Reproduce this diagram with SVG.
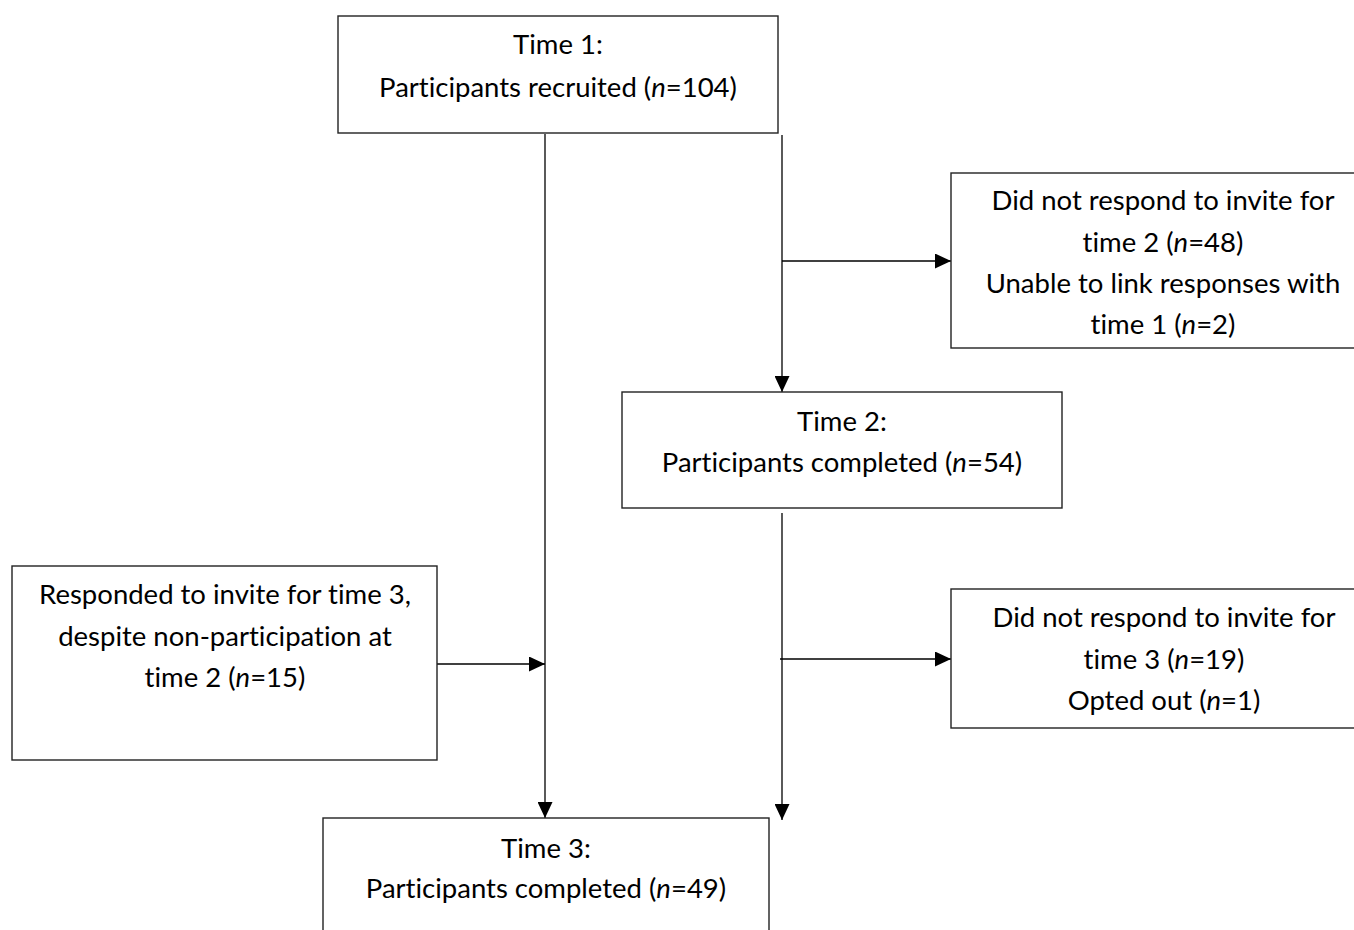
<svg xmlns="http://www.w3.org/2000/svg" width="1354" height="930" viewBox="0 0 1354 930">
<defs>
<style>
.box{fill:#fff;stroke:#222;stroke-width:1.4}
.ln{fill:none;stroke:#000;stroke-width:1.3}
text{font-family:Lato,"Open Sans","Liberation Sans",sans-serif;font-size:27.5px;fill:#000;text-anchor:middle;font-variant-ligatures:none;font-feature-settings:"liga" 0,"clig" 0}
.i{font-style:italic}
</style>
<marker id="ah" markerWidth="16" markerHeight="15" refX="16" refY="7.5" orient="auto" markerUnits="userSpaceOnUse">
<path d="M0,0 L16,7.5 L0,15 Z" fill="#000"/>
</marker>
</defs>
<rect width="1354" height="930" fill="#fff"/>
<g id="connectors">
<line class="ln" x1="545" y1="134" x2="545" y2="818" marker-end="url(#ah)"/>
<line class="ln" x1="782" y1="135" x2="782" y2="392" marker-end="url(#ah)"/>
<line class="ln" x1="782" y1="261" x2="951" y2="261" marker-end="url(#ah)"/>
<line class="ln" x1="782" y1="513" x2="782" y2="820" marker-end="url(#ah)"/>
<line class="ln" x1="780" y1="659" x2="951" y2="659" marker-end="url(#ah)"/>
<line class="ln" x1="437" y1="664" x2="545" y2="664" marker-end="url(#ah)"/>
</g>
<g id="time1">
<rect class="box" x="338" y="16" width="440" height="117"/>
<text x="558" y="54">Time 1:</text>
<text x="558" y="97">Participants recruited (<tspan class="i">n</tspan>=104)</text>
</g>
<g id="lost2">
<rect class="box" x="951" y="173" width="430" height="175"/>
<text x="1163" y="210">Did not respond to invite for</text>
<text x="1163" y="252">time 2 (<tspan class="i">n</tspan>=48)</text>
<text x="1163" y="293">Unable to link responses with</text>
<text x="1163" y="334">time 1 (<tspan class="i">n</tspan>=2)</text>
</g>
<g id="time2">
<rect class="box" x="622" y="392" width="440" height="116"/>
<text x="842" y="431">Time 2:</text>
<text x="842" y="472">Participants completed (<tspan class="i">n</tspan>=54)</text>
</g>
<g id="responded">
<rect class="box" x="12" y="566" width="425" height="194"/>
<text x="225" y="604">Responded to invite for time 3,</text>
<text x="225" y="646">despite non-participation at</text>
<text x="225" y="687">time 2 (<tspan class="i">n</tspan>=15)</text>
</g>
<g id="lost3">
<rect class="box" x="951" y="589" width="430" height="139"/>
<text x="1164" y="627">Did not respond to invite for</text>
<text x="1164" y="669">time 3 (<tspan class="i">n</tspan>=19)</text>
<text x="1164" y="710">Opted out (<tspan class="i">n</tspan>=1)</text>
</g>
<g id="time3">
<rect class="box" x="323" y="818" width="446" height="130"/>
<text x="546" y="858">Time 3:</text>
<text x="546" y="898">Participants completed (<tspan class="i">n</tspan>=49)</text>
</g>
</svg>
